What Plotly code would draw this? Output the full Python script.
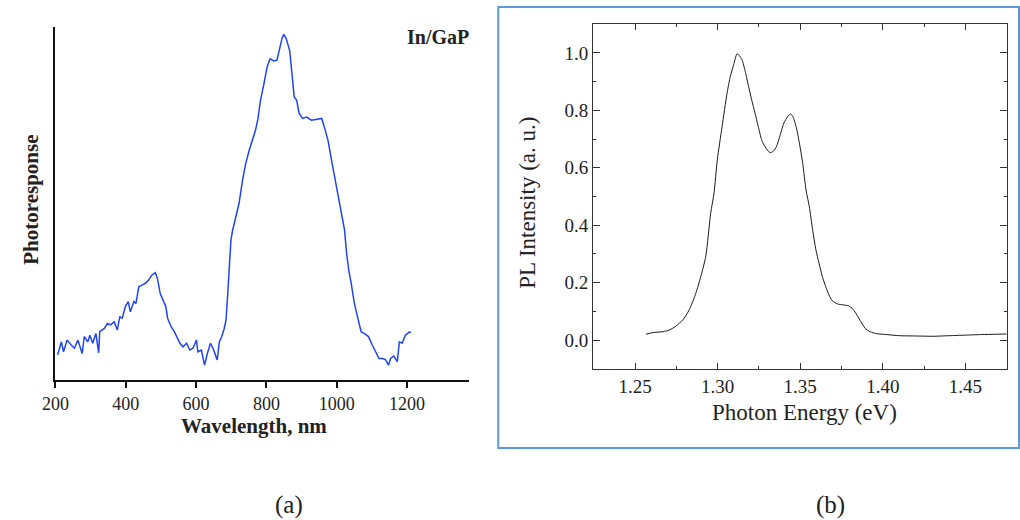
import plotly.graph_objects as go

# ---------- Panel (a): photoresponse vs wavelength ----------
wavelength_nm = [206, 217, 223, 233, 245, 254, 264, 276, 282, 292, 298, 306, 315, 323, 326,
                 339, 348, 357, 367, 376, 383, 390, 399, 407, 413, 423, 429, 437, 446, 456,
                 465, 474, 484, 490, 498, 507, 514, 519, 529, 538, 545, 554, 563, 573, 582,
                 591, 601, 605, 615, 624, 632, 641, 650, 660, 666, 673, 680, 685, 690, 694,
                 699, 704, 713, 722, 732, 741, 751, 760, 769, 776, 783, 793, 802, 810, 821,
                 830, 838, 844, 849, 856, 866, 872, 879, 886, 893, 903, 914, 928, 943, 957,
                 966, 975, 985, 994, 1003, 1012, 1022, 1028, 1034, 1041, 1050, 1059, 1069,
                 1078, 1090, 1101, 1111, 1120, 1130, 1139, 1147, 1153, 1162, 1172, 1178,
                 1186, 1195, 1205, 1211]
photoresponse = [0.071, 0.108, 0.080, 0.113, 0.099, 0.090, 0.113, 0.075, 0.123, 0.108, 0.127,
                 0.104, 0.132, 0.077, 0.137, 0.146, 0.160, 0.156, 0.165, 0.142, 0.179, 0.175,
                 0.208, 0.222, 0.193, 0.222, 0.217, 0.264, 0.269, 0.274, 0.283, 0.297, 0.304,
                 0.288, 0.245, 0.226, 0.208, 0.175, 0.151, 0.137, 0.123, 0.104, 0.094, 0.104,
                 0.085, 0.090, 0.113, 0.080, 0.085, 0.042, 0.075, 0.104, 0.085, 0.057, 0.108,
                 0.123, 0.146, 0.170, 0.245, 0.321, 0.396, 0.425, 0.462, 0.500, 0.566, 0.613,
                 0.651, 0.679, 0.708, 0.741, 0.792, 0.840, 0.887, 0.910, 0.904, 0.906, 0.943,
                 0.967, 0.979, 0.967, 0.934, 0.868, 0.802, 0.792, 0.755, 0.741, 0.745, 0.736,
                 0.738, 0.741, 0.712, 0.679, 0.623, 0.575, 0.519, 0.481, 0.425, 0.358, 0.311,
                 0.274, 0.217, 0.179, 0.137, 0.132, 0.123, 0.099, 0.080, 0.061, 0.061, 0.057,
                 0.042, 0.061, 0.068, 0.052, 0.108, 0.104, 0.127, 0.135, 0.135]
a_xticks = [200, 400, 600, 800, 1000, 1200]

# ---------- Panel (b): PL intensity vs photon energy ----------
photon_energy_ev = [1.2566, 1.2609, 1.2669, 1.2709, 1.2749, 1.2789, 1.2828, 1.2868, 1.2898,
                    1.2928, 1.2958, 1.2978, 1.2998, 1.3027, 1.3057, 1.3077, 1.3097, 1.3117,
                    1.3131, 1.3147, 1.3167, 1.3187, 1.3206, 1.3226, 1.3246, 1.3266, 1.3286,
                    1.3316, 1.3336, 1.3356, 1.3376, 1.3401, 1.3425, 1.3441, 1.3455, 1.3475,
                    1.3495, 1.3515, 1.3535, 1.3555, 1.3575, 1.3595, 1.3614, 1.3634, 1.3654,
                    1.3674, 1.3694, 1.3724, 1.3764, 1.3794, 1.3820, 1.3843, 1.3867, 1.3893,
                    1.3923, 1.3963, 1.4022, 1.4102, 1.4201, 1.4301, 1.4400, 1.4500, 1.4599,
                    1.4679, 1.4749]
pl_intensity = [0.020, 0.026, 0.029, 0.035, 0.049, 0.070, 0.105, 0.163, 0.221, 0.291, 0.442,
                0.512, 0.628, 0.744, 0.860, 0.919, 0.959, 0.997, 0.991, 0.977, 0.936, 0.884,
                0.837, 0.791, 0.744, 0.698, 0.674, 0.653, 0.657, 0.674, 0.709, 0.756, 0.779,
                0.788, 0.779, 0.744, 0.686, 0.616, 0.523, 0.465, 0.384, 0.314, 0.267, 0.221,
                0.186, 0.157, 0.137, 0.126, 0.122, 0.119, 0.107, 0.087, 0.064, 0.041, 0.029,
                0.022, 0.019, 0.015, 0.014, 0.013, 0.015, 0.017, 0.019, 0.020, 0.021]
b_xticks = [1.25, 1.30, 1.35, 1.40, 1.45]
b_yticks = [0.0, 0.2, 0.4, 0.6, 0.8, 1.0]

W, H = 1020, 520
def px(x):
    return x / W
def py(y):
    return 1 - y / H

SERIF = "Liberation Serif"

fig = go.Figure()
fig.add_trace(go.Scatter(x=wavelength_nm, y=photoresponse, mode="lines",
                         line=dict(color="#1f45fc", width=1.5),
                         xaxis="x", yaxis="y", showlegend=False))
fig.add_trace(go.Scatter(x=photon_energy_ev, y=pl_intensity, mode="lines",
                         line=dict(color="#1a1a1a", width=1, shape="spline", smoothing=0.6),
                         xaxis="x2", yaxis="y2", showlegend=False))

def note(text, x, y, size, angle=0):
    return dict(text=text, xref="paper", yref="paper", x=px(x), y=py(y),
                xanchor="center", yanchor="middle", showarrow=False, textangle=angle,
                font=dict(family=SERIF, size=size, color="#222"))

fig.update_layout(
    width=W, height=H,
    margin=dict(l=0, r=0, t=0, b=0),
    paper_bgcolor="white", plot_bgcolor="white",
    xaxis=dict(domain=[px(42), px(461)], range=[200, 1375], anchor="y",
               tickvals=a_xticks, ticktext=[str(v) for v in a_xticks],
               showline=True, linecolor="#111", linewidth=2,
               ticks="outside", ticklen=6, tickwidth=2, tickcolor="#111",
               showgrid=False, zeroline=False,
               tickfont=dict(family=SERIF, size=18, color="#222")),
    yaxis=dict(domain=[py(380), py(27)], range=[0, 1], anchor="x",
               showline=True, linecolor="#111", linewidth=2,
               showticklabels=False, ticks="", showgrid=False, zeroline=False),
    xaxis2=dict(domain=[px(587), px(1007)], range=[1.2245, 1.4753], anchor="y2",
                tickvals=b_xticks, ticktext=["%.2f" % v for v in b_xticks],
                showline=True, linecolor="#333", linewidth=1, mirror="ticks",
                ticks="inside", ticklen=6, tickwidth=1, tickcolor="#333",
                minor=dict(ticks="inside", ticklen=3, tickwidth=1, tickcolor="#333",
                           dtick=0.025, tick0=1.225),
                showgrid=False, zeroline=False,
                tickfont=dict(family=SERIF, size=19, color="#222")),
    yaxis2=dict(domain=[py(369), py(24)], range=[-0.101, 1.101], anchor="x2",
                tickvals=b_yticks, ticktext=["%.1f" % v for v in b_yticks],
                showline=True, linecolor="#333", linewidth=1, mirror="ticks",
                ticks="inside", ticklen=7, tickwidth=1, tickcolor="#333",
                minor=dict(ticks="inside", ticklen=3, tickwidth=1, tickcolor="#333",
                           dtick=0.1, tick0=0.1),
                showgrid=False, zeroline=False,
                tickfont=dict(family=SERIF, size=19, color="#222")),
    shapes=[dict(type="rect", xref="paper", yref="paper",
                 x0=px(491), x1=px(1019), y0=py(448), y1=py(7),
                 line=dict(color="#5b9bd5", width=2), fillcolor="rgba(0,0,0,0)")],
    annotations=[
        note("<b>Wavelength, nm</b>", 243, 426, 21),
        note("<b>Photoresponse</b>", 17, 200, 21, -90),
        note("<b>In/GaP</b>", 430, 37, 20),
        note("Photon Energy (eV)", 801, 412, 23),
        note("PL Intensity (a. u.)", 521, 203, 23, -90),
        note("(a)", 279, 505, 25),
        note("(b)", 828, 505, 25),
    ],
)

fig.write_html("out.html")
